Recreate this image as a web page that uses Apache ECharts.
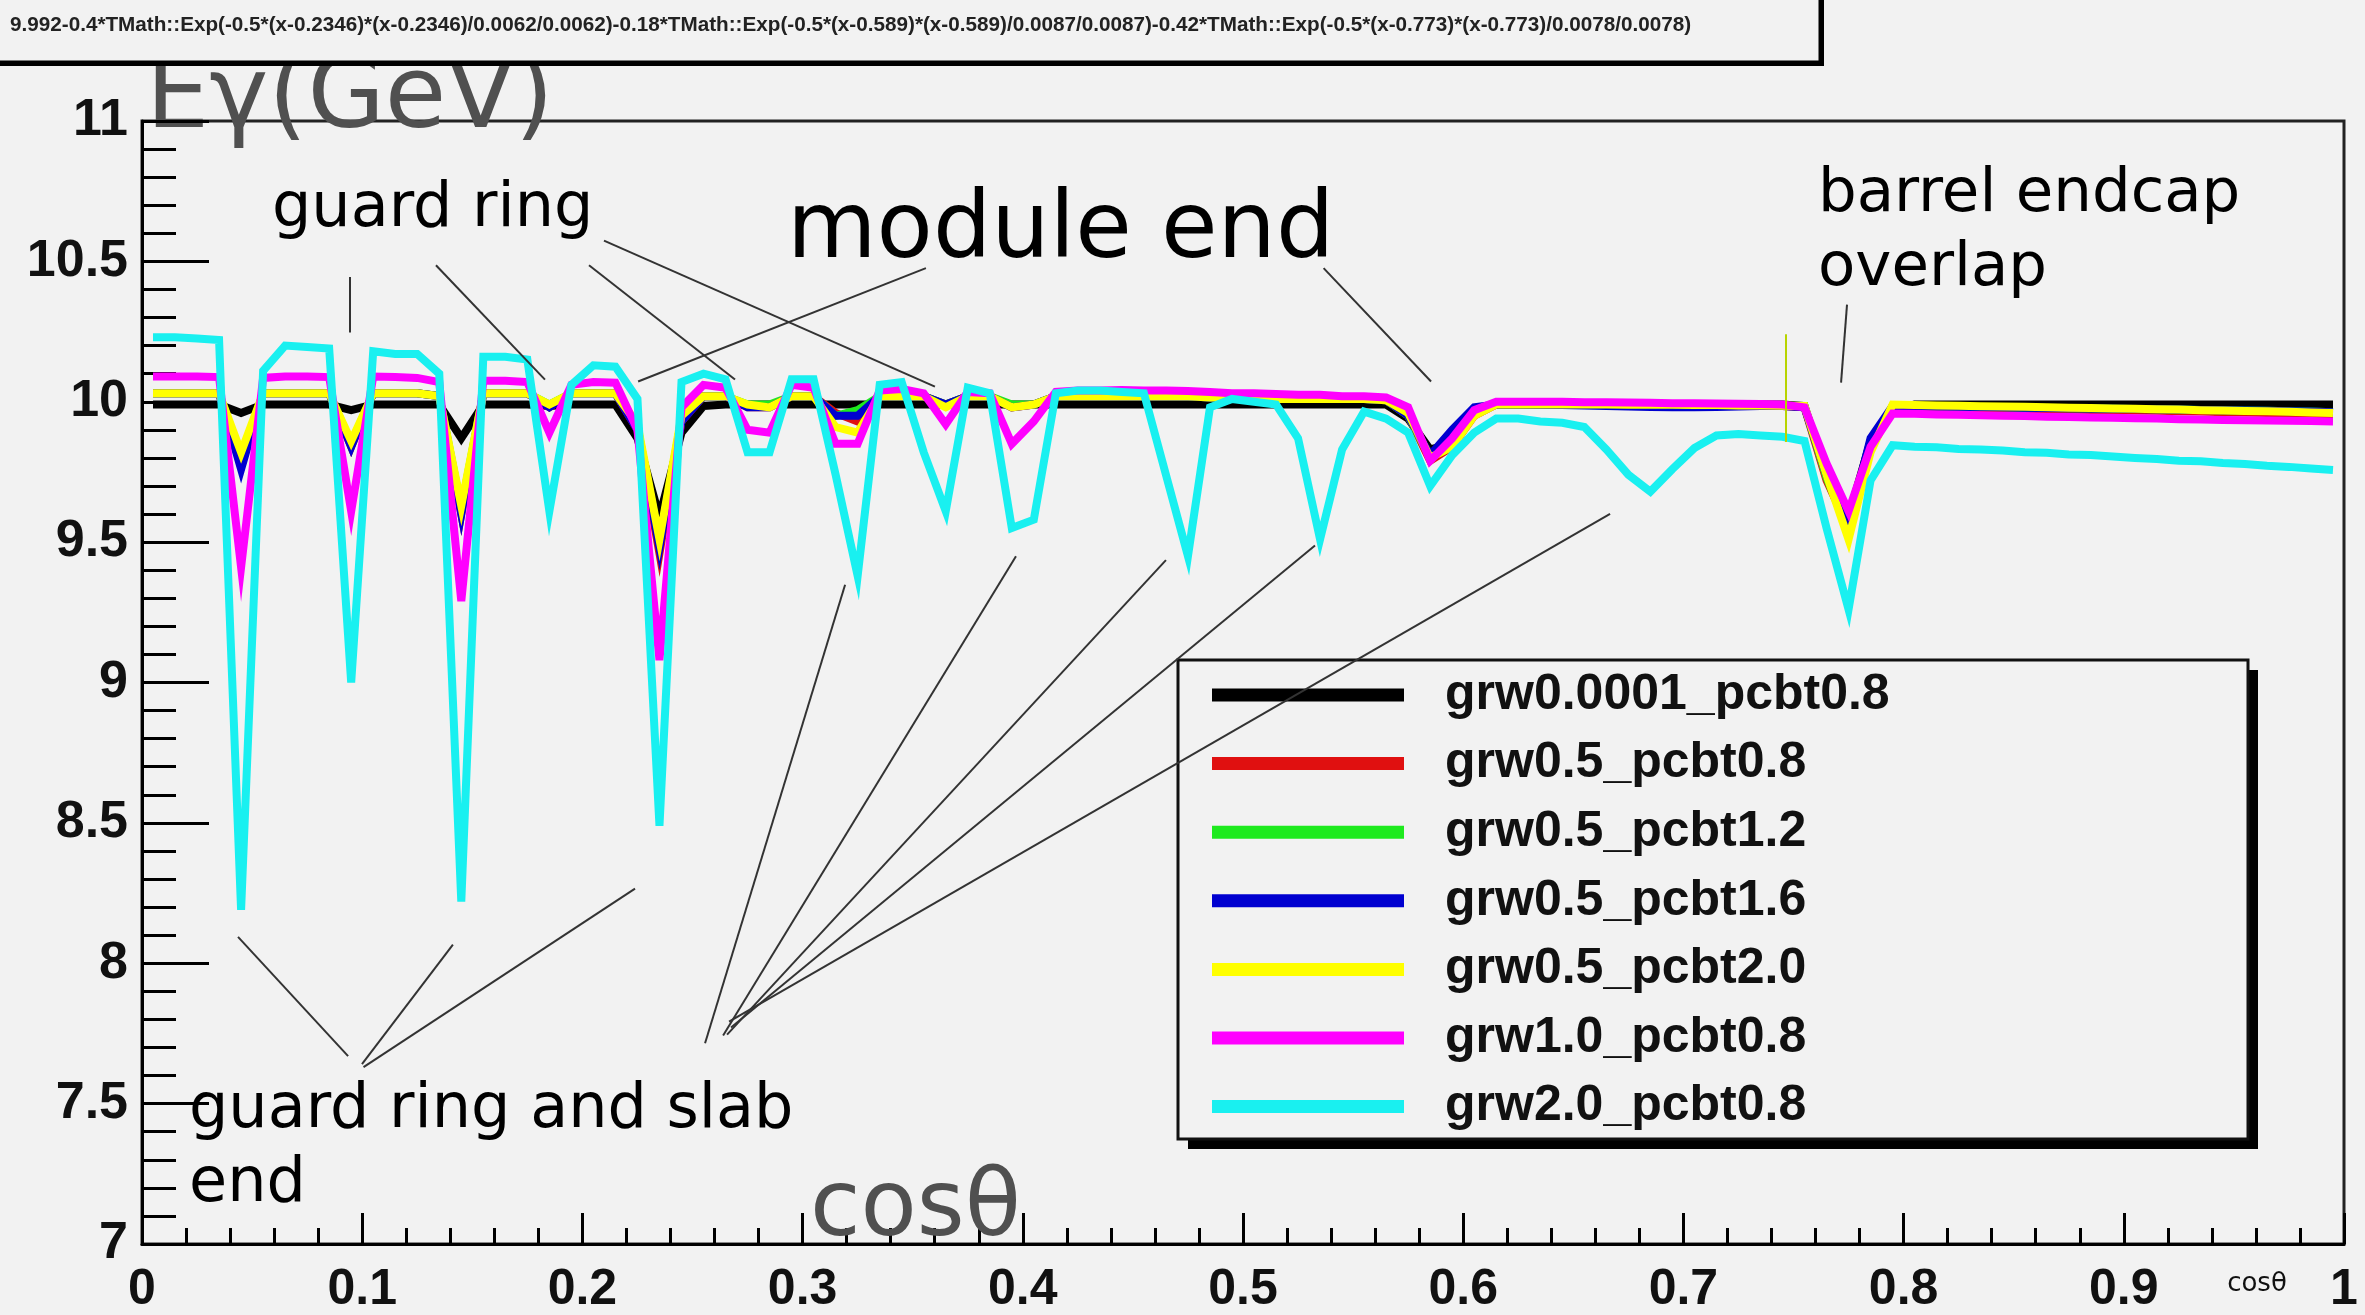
<!DOCTYPE html>
<html><head><meta charset="utf-8">
<script src="https://cdn.jsdelivr.net/npm/echarts@6/dist/echarts.min.js"></script>
<style>html,body{margin:0;padding:0;background:#f2f2f2}#c{width:2365px;height:1315px}</style>
</head><body><div id="c"></div>
<script>
// bin centres of the 100-bin profile in cos(theta)
const cosTheta = Array.from({length: 100}, (_, i) => Math.round((0.005 + 0.01 * i) * 1000) / 1000);

const seriesNames = ['grw0.0001_pcbt0.8','grw0.5_pcbt0.8','grw0.5_pcbt1.2','grw0.5_pcbt1.6','grw0.5_pcbt2.0','grw1.0_pcbt0.8','grw2.0_pcbt0.8'];
const seriesColors = ['#000000','#e01010','#1eea1e','#0000d0','#ffff00','#ff00ff','#19f0f0'];

const grw0001_pcbt08 = [
9.99,9.99,9.99,9.99,9.96,9.99,9.99,9.99,9.99,9.97,
9.99,9.99,9.99,9.99,9.87,9.99,9.99,9.99,9.985,9.99,
9.99,9.99,9.87,9.59,9.89,9.985,9.99,9.99,9.99,9.99,
9.99,9.99,9.99,9.99,9.99,9.99,9.99,9.99,9.99,9.99,
9.99,9.99,9.99,9.99,9.99,9.99,9.99,9.99,9.99,9.99,
9.99,9.99,9.99,9.99,9.99,9.99,9.99,9.94,9.83,9.85,
9.96,9.99,9.99,9.99,9.99,9.99,9.99,9.99,9.99,9.99,
9.99,9.99,9.99,9.99,9.99,9.985,9.74,9.59,9.86,9.97,
9.99,9.99,9.99,9.99,9.99,9.99,9.99,9.99,9.99,9.99,
9.99,9.99,9.99,9.99,9.99,9.99,9.99,9.99,9.99,9.99];
const grw05_pcbt08 = [
10.03,10.03,10.03,10.03,9.78,10.03,10.03,10.03,10.03,9.84,
10.03,10.03,10.03,10.02,9.60,10.03,10.03,10.03,9.98,10.03,
10.03,10.03,9.90,9.46,9.93,10.02,10.02,9.98,9.98,10.02,
10.02,9.96,9.93,10.02,10.02,10.02,9.99,10.02,10.02,9.98,
9.99,10.02,10.02,10.02,10.02,10.02,10.02,10.02,10.015,10.015,
10.015,10.01,10.01,10.01,10.01,10.01,10.005,9.95,9.79,9.84,
9.95,9.99,9.99,9.99,9.99,9.99,9.99,9.988,9.988,9.988,
9.987,9.987,9.986,9.986,9.985,9.98,9.72,9.55,9.83,9.98,
9.979,9.978,9.977,9.976,9.975,9.974,9.973,9.972,9.971,9.97,
9.969,9.968,9.966,9.965,9.963,9.962,9.96,9.958,9.957,9.955];
const grw05_pcbt12 = [
10.03,10.03,10.03,10.03,9.80,10.03,10.03,10.03,10.03,9.85,
10.03,10.03,10.03,10.02,9.62,10.03,10.03,10.03,9.99,10.03,
10.03,10.03,9.91,9.50,9.94,10.02,10.02,9.99,9.99,10.02,
10.02,9.95,9.97,10.02,10.02,10.02,9.99,10.02,10.02,9.99,
9.99,10.02,10.02,10.02,10.02,10.02,10.02,10.02,10.015,10.015,
10.015,10.01,10.01,10.01,10.01,10.01,10.005,9.95,9.80,9.85,
9.96,9.99,9.99,9.99,9.99,9.99,9.99,9.989,9.989,9.988,
9.988,9.987,9.987,9.986,9.986,9.985,9.73,9.54,9.83,9.985,
9.984,9.983,9.982,9.981,9.98,9.979,9.978,9.977,9.976,9.975,
9.974,9.973,9.972,9.971,9.97,9.969,9.968,9.966,9.965,9.963];
const grw05_pcbt16 = [
10.03,10.03,10.03,10.03,9.76,10.03,10.03,10.03,10.03,9.84,
10.03,10.03,10.03,10.02,9.60,10.03,10.03,10.03,9.98,10.03,
10.03,10.03,9.90,9.48,9.93,10.02,10.02,9.98,9.98,10.02,
10.02,9.95,9.95,10.02,10.02,10.02,9.99,10.02,10.02,9.98,
9.99,10.02,10.02,10.02,10.02,10.02,10.02,10.02,10.015,10.015,
10.015,10.01,10.01,10.01,10.01,10.01,10.005,9.95,9.81,9.90,
9.98,9.99,9.99,9.989,9.988,9.987,9.985,9.983,9.981,9.98,
9.98,9.981,9.983,9.985,9.985,9.98,9.74,9.56,9.87,9.985,
9.984,9.983,9.982,9.981,9.98,9.979,9.978,9.977,9.976,9.975,
9.974,9.973,9.972,9.971,9.97,9.969,9.968,9.966,9.965,9.963];
const grw05_pcbt20 = [
10.03,10.03,10.03,10.03,9.82,10.03,10.03,10.03,10.03,9.86,
10.03,10.03,10.03,10.02,9.63,10.03,10.03,10.03,9.99,10.03,
10.03,10.03,9.92,9.51,9.95,10.02,10.02,9.99,9.98,10.02,
10.02,9.91,9.89,10.02,10.02,10.02,9.98,10.02,10.02,9.98,
9.99,10.02,10.02,10.02,10.02,10.02,10.02,10.02,10.015,10.015,
10.015,10.01,10.01,10.01,10.01,10.01,10.005,9.96,9.80,9.84,
9.95,9.99,9.99,9.99,9.99,9.99,9.99,9.989,9.989,9.989,
9.988,9.988,9.987,9.987,9.986,9.985,9.74,9.51,9.82,9.99,
9.988,9.987,9.986,9.984,9.983,9.982,9.98,9.979,9.978,9.976,
9.975,9.973,9.972,9.97,9.969,9.967,9.966,9.964,9.962,9.96];
const grw10_pcbt08 = [
10.09,10.09,10.09,10.088,9.41,10.085,10.09,10.09,10.088,9.61,
10.09,10.088,10.085,10.07,9.29,10.075,10.075,10.07,9.89,10.06,
10.07,10.068,9.90,9.08,9.98,10.06,10.05,9.90,9.89,10.06,
10.05,9.85,9.85,10.04,10.045,10.03,9.92,10.035,10.03,9.85,
9.93,10.035,10.04,10.04,10.042,10.04,10.04,10.038,10.035,10.03,
10.03,10.028,10.025,10.025,10.02,10.02,10.015,9.98,9.79,9.87,
9.97,10.0,10.0,10.0,10.0,9.998,9.998,9.997,9.996,9.995,
9.995,9.994,9.993,9.992,9.99,9.98,9.78,9.61,9.84,9.958,
9.957,9.955,9.954,9.952,9.95,9.949,9.947,9.946,9.944,9.943,
9.941,9.94,9.938,9.937,9.935,9.934,9.933,9.932,9.931,9.93];
const grw20_pcbt08 = [
10.23,10.23,10.225,10.22,8.19,10.11,10.20,10.195,10.19,9.00,
10.18,10.17,10.17,10.10,8.22,10.16,10.16,10.15,9.61,10.06,
10.13,10.125,10.01,8.49,10.07,10.10,10.08,9.82,9.82,10.08,
10.08,9.74,9.38,10.06,10.07,9.82,9.61,10.05,10.03,9.55,
9.58,10.03,10.04,10.04,10.035,10.03,9.74,9.45,9.98,10.01,
10.00,9.99,9.87,9.51,9.83,9.965,9.94,9.89,9.70,9.81,
9.89,9.94,9.94,9.93,9.925,9.91,9.83,9.74,9.68,9.76,
9.835,9.88,9.885,9.88,9.875,9.86,9.55,9.26,9.72,9.845,
9.84,9.838,9.832,9.83,9.826,9.82,9.818,9.812,9.81,9.805,
9.80,9.796,9.79,9.788,9.782,9.778,9.772,9.768,9.762,9.757];

const seriesValues = [grw0001_pcbt08, grw05_pcbt08, grw05_pcbt12, grw05_pcbt16, grw05_pcbt20, grw10_pcbt08, grw20_pcbt08];

const yTickLabels = ['7','7.5','8','8.5','9','9.5','10','10.5','11'];
const xTickLabels = ['0','0.1','0.2','0.3','0.4','0.5','0.6','0.7','0.8','0.9','1'];

const fitFormula = '9.992-0.4*TMath::Exp(-0.5*(x-0.2346)*(x-0.2346)/0.0062/0.0062)-0.18*TMath::Exp(-0.5*(x-0.589)*(x-0.589)/0.0087/0.0087)-0.42*TMath::Exp(-0.5*(x-0.773)*(x-0.773)/0.0078/0.0078)';

// annotation pointer lines, in data coordinates [cosθ, E]
const pointerLines = [
 [[0.0945,10.444],[0.0945,10.247]],
 [[0.1335,10.486],[0.1830,10.079]],
 [[0.2030,10.486],[0.2693,10.079]],
 [[0.2098,10.574],[0.3601,10.054]],
 [[0.3560,10.476],[0.2253,10.072]],
 [[0.5366,10.476],[0.5854,10.072]],
 [[0.7743,10.346],[0.7716,10.068]],
 [[0.0436,8.094],[0.0936,7.669]],
 [[0.1412,8.066],[0.0999,7.641]],
 [[0.2239,8.266],[0.1006,7.630]],
 [[0.3193,9.348],[0.2557,7.715]],
 [[0.3969,9.450],[0.2639,7.743]],
 [[0.4650,9.436],[0.2657,7.746]],
 [[0.5327,9.488],[0.2675,7.771]],
 [[0.6667,9.601],[0.2666,7.792]]
];
const markerLine = [[0.7467,10.24],[0.7467,9.857]];

const chart = echarts.init(document.getElementById('c'), null, {renderer: 'canvas'});

const dataSeries = seriesNames.map((name, s) => ({
  name: name,
  type: 'line',
  data: cosTheta.map((x, i) => [x, seriesValues[s][i]]),
  showSymbol: false,
  symbol: 'none',
  lineStyle: {color: seriesColors[s], width: 8, join: 'miter'},
  itemStyle: {color: seriesColors[s]},
  z: 2
}));

const annotSeries = {
  name: 'annotations',
  type: 'line',
  data: [],
  z: 5,
  markLine: {
    silent: true,
    symbol: ['none','none'],
    label: {show: false},
    animation: false,
    lineStyle: {color: '#333', width: 2, type: 'solid'},
    emphasis: {disabled: true},
    data: pointerLines.map(p => [{coord: p[0]}, {coord: p[1]}]).concat([
      [{coord: markerLine[0], lineStyle: {color: '#b8d400', width: 2, type: 'solid'}}, {coord: markerLine[1]}]
    ])
  }
};

const FS = 'DejaVu Sans';
function txt(text, x, y, size, color, z) {
  return {type: 'text', z: z || 6, x: x, y: y, silent: true,
    style: {text: text, font: size + 'px "' + FS + '"', fill: color || '#000',
            textAlign: 'left', textVerticalAlign: 'middle', align: 'left', verticalAlign: 'middle'}};
}

chart.setOption({
  animation: false,
  backgroundColor: '#f2f2f2',
  grid: {left: 142, right: 21, top: 121, bottom: 56, show: true, borderColor: '#222', borderWidth: 3, backgroundColor: 'transparent'},
  legend: {
    data: seriesNames,
    orient: 'vertical',
    left: 1212, top: 670,
    padding: 0,
    icon: 'rect',
    itemWidth: 192, itemHeight: 13,
    itemGap: 18.6,
    selectedMode: false,
    z: 4,
    textStyle: {fontFamily: 'Liberation Sans', fontWeight: 'bold', fontSize: 50, lineHeight: 50, color: '#111', padding: [0,0,0,36]}
  },
  xAxis: {
    type: 'value', min: 0, max: 1, interval: 0.1,
    name: 'cosθ', nameLocation: 'end', nameGap: -87,
    nameTextStyle: {fontFamily: FS, fontSize: 26, color: '#111', align: 'center', verticalAlign: 'top', padding: [27,0,0,0]},
    axisLine: {show: true, lineStyle: {color: '#000', width: 3}},
    axisTick: {show: true, inside: true, length: 31, lineStyle: {color: '#000', width: 3}},
    minorTick: {show: true, splitNumber: 5, length: 16, lineStyle: {color: '#000', width: 3}},
    splitLine: {show: false},
    axisLabel: {margin: 21, fontFamily: 'Liberation Sans', fontWeight: 'bold', fontSize: 50, color: '#111',
      formatter: v => xTickLabels[Math.round(v * 10)]}
  },
  yAxis: {
    type: 'value', min: 7, max: 11, interval: 0.5,
    name: 'Eγ(GeV)', nameLocation: 'end', nameGap: 20,
    nameTextStyle: {fontFamily: FS, fontSize: 100, color: '#505050', align: 'left', verticalAlign: 'middle', padding: [0,0,0,4]},
    axisLine: {show: true, lineStyle: {color: '#000', width: 3}},
    axisTick: {show: true, inside: true, length: 67, lineStyle: {color: '#000', width: 3}},
    minorTick: {show: true, splitNumber: 5, length: 34, lineStyle: {color: '#000', width: 3}},
    splitLine: {show: false},
    axisLabel: {margin: 14, fontFamily: 'Liberation Sans', fontWeight: 'bold', fontSize: 52, color: '#111',
      formatter: v => yTickLabels[Math.round((v - 7) * 2)]}
  },
  series: dataSeries.concat([annotSeries]),
  graphic: {elements: [
    {type: 'rect', z: 1, silent: true, shape: {x: -10, y: -10, width: 1834, height: 76}, style: {fill: '#000'}},
    {type: 'rect', z: 1, silent: true, shape: {x: -10, y: -10, width: 1830, height: 72}, style: {fill: '#f2f2f2', stroke: '#000', lineWidth: 3}},
    {type: 'text', z: 1, silent: true, x: 10, y: 25, style: {text: fitFormula, font: 'bold 20.7px "Liberation Sans"', fill: '#222', textVerticalAlign: 'middle', verticalAlign: 'middle'}},
    {type: 'rect', z: 3, silent: true, shape: {x: 1188, y: 670, width: 1070, height: 479}, style: {fill: '#000'}},
    {type: 'rect', z: 3, silent: true, shape: {x: 1178, y: 660, width: 1070, height: 479}, style: {fill: '#f2f2f2', stroke: '#111', lineWidth: 3}},
    txt('guard ring', 272, 210, 62),
    txt('module end', 787, 233, 92),
    txt('barrel endcap', 1818, 195, 61),
    txt('overlap', 1818, 269, 61),
    txt('guard ring and slab', 189, 1111, 62),
    txt('end', 189, 1185, 62),
    txt('cosθ', 810, 1211, 92, '#505050')
  ]}
});
</script>
</body></html>
